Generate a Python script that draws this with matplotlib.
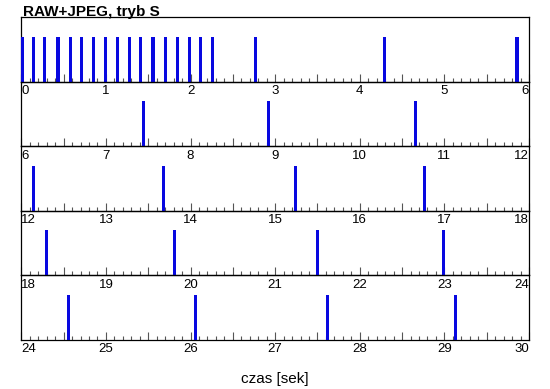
import matplotlib.pyplot as plt
import numpy as np
from matplotlib.ticker import MultipleLocator

plt.rcParams['font.family'] = ['Liberation Sans', 'DejaVu Sans']

# czasy kolejnych zdjec (s)
t_klatek = [0.018, 0.146, 0.272, 0.434, 0.583, 0.713, 0.855, 0.997, 1.139,
            1.281, 1.411, 1.556, 1.702, 1.848, 1.986, 2.116, 2.262, 2.770,
            4.290, 5.858,
            7.448, 8.926, 10.656,
            12.14, 13.68, 15.24, 16.76,
            18.30, 19.81, 21.50, 22.99,
            24.56, 26.06, 27.62, 29.13]
zdarzenie = 1          # jedno zdjecie na slupek
okno = 6               # sekund na panel
n_paneli = 5

fig = plt.figure(figsize=(5.5, 3.89), dpi=100)
W, H = 550, 389
x0, x1 = 21.3, 529
y_top, y_bot = 17.3, 340
ph = (y_bot - y_top) / n_paneli

t = np.array(t_klatek)
for i in range(n_paneli):
    top = y_top + i * ph
    ax = fig.add_axes([x0 / W, 1 - (top + ph) / H, (x1 - x0) / W, ph / H])
    ax.set_facecolor('none')
    lo, hi = i * okno, (i + 1) * okno
    sel = t[(t >= lo) & (t < hi)]
    ax.bar(sel, [zdarzenie] * len(sel), width=0.037, color='#0808e0',
           linewidth=0, zorder=3)
    ax.set_xlim(lo, hi)
    ax.set_ylim(0, 1.43)

    ax.set_yticks([])
    ax.xaxis.set_minor_locator(MultipleLocator(0.1))
    ticks = np.arange(lo, hi + 0.01, 0.5)
    ax.set_xticks(ticks)
    ax.set_xticklabels([str(int(v)) if v == int(v) else '' for v in ticks])
    ax.tick_params(axis='x', which='major', direction='in', length=6,
                   width=0.8, color='#555555', labelsize=9.5, pad=2.5,
                   top=False)
    ax.tick_params(axis='x', which='minor', direction='in', length=3,
                   width=0.8, color='#555555', top=False)
    tl = ax.xaxis.get_major_ticks()
    tl[0].label1.set_horizontalalignment('left')
    tl[-1].label1.set_horizontalalignment('right')
    for s in ax.spines.values():
        s.set_linewidth(0.9)
        s.set_color('black')

fig.text(23.3 / W, 1 - 16 / H, 'RAW+JPEG, tryb S', fontsize=11,
         fontweight='bold', va='baseline', ha='left')
fig.text((x0 + x1) / 2 / W, 1 - 383 / H, 'czas [sek]', fontsize=11,
         va='baseline', ha='center')

fig.savefig('out.png', dpi=100)
